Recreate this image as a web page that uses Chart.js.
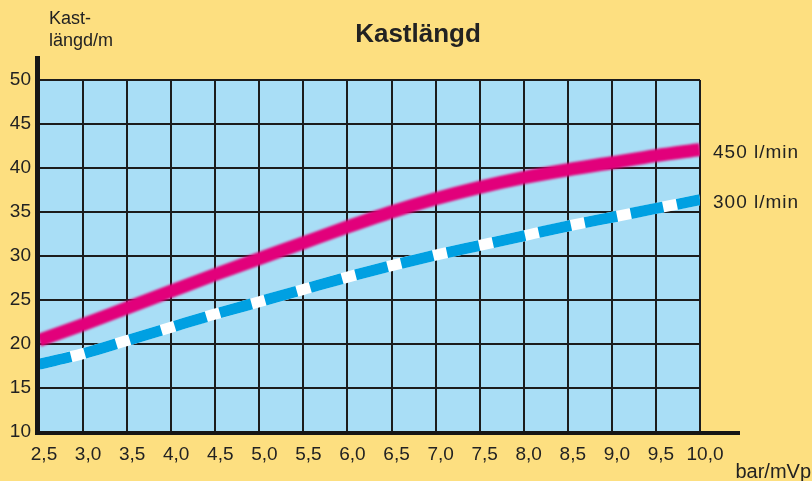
<!DOCTYPE html>
<html>
<head>
<meta charset="utf-8">
<script src="https://cdn.jsdelivr.net/npm/chart.js@4"></script>
<style>
  html, body { margin: 0; padding: 0; background: #fddf80; }
  #wrap { width: 812px; height: 481px; }
</style>
</head>
<body>
<div id="wrap"><canvas id="chart" width="812" height="481"></canvas></div>
<script>
// tryck (bar/mVp) och kastlängd (m)
const pressure = [2.5, 3.0, 3.5, 4.0, 4.5, 5.0, 5.5, 6.0, 6.5, 7.0, 7.5, 8.0, 8.5, 9.0, 9.5, 10.0];
const flow450 = [20.4, 22.2, 24.1, 26.0, 27.9, 29.7, 31.5, 33.3, 35.0, 36.5, 37.8, 38.9, 39.8, 40.6, 41.4, 42.1];
const flow300 = [17.7, 18.9, 20.4, 21.9, 23.4, 24.8, 26.2, 27.6, 28.9, 30.1, 31.2, 32.3, 33.4, 34.4, 35.4, 36.4];
const seriesLabels = ['450 l/min', '300 l/min'];
const chartTitle = 'Kastlängd';
const yTitle = ['Kast-', 'längd/m'];
const xTitle = 'bar/mVp';

const FONT = "'Liberation Sans', Arial, sans-serif";
Chart.defaults.font.family = FONT;
Chart.defaults.color = '#222';

const toPoints = (ys) => pressure.map((x, i) => ({ x, y: ys[i] }));
const fmt = (v) => v.toFixed(1).replace('.', ',');

const decorations = {
    id: 'decorations',
    beforeDraw(chart) {
        const { ctx, chartArea: a } = chart;
        ctx.save();
        ctx.fillStyle = '#a9def6';
        ctx.fillRect(a.left, a.top, a.right - a.left, a.bottom - a.top);
        ctx.restore();
    },
    beforeDatasetDraw(chart, args) {
        if (args.index === 0) {
            chart.ctx.save();
            chart.ctx.filter = 'blur(1px)';
        }
    },
    afterDatasetDraw(chart, args) {
        if (args.index === 0) chart.ctx.restore();
    },
    afterDraw(chart) {
        const { ctx, chartArea: a } = chart;
        ctx.save();
        // axis lines
        ctx.fillStyle = '#161616';
        ctx.fillRect(a.left - 4, 56, 5, a.bottom - 56 + 2);
        ctx.fillRect(a.left - 4, a.bottom - 1, 740 - a.left + 4, 4);

        ctx.textBaseline = 'alphabetic';
        ctx.fillStyle = '#222';
        ctx.textAlign = 'center';
        ctx.font = 'bold 26px ' + FONT;
        ctx.fillText(chartTitle, 418, 42);

        ctx.textAlign = 'left';
        ctx.font = '18px ' + FONT;
        ctx.fillText(yTitle[0], 49, 24);
        ctx.fillText(yTitle[1], 49, 46);

        ctx.textAlign = 'right';
        ctx.font = '20px ' + FONT;
        ctx.fillText(xTitle, 811, 478);

        // series labels beside the line ends
        ctx.textAlign = 'left';
        ctx.textBaseline = 'middle';
        ctx.font = '19px ' + FONT;
        ctx.letterSpacing = '1px';
        [0, 2].forEach((di, k) => {
            const pts = chart.getDatasetMeta(di).data;
            const last = pts[pts.length - 1];
            ctx.fillText(seriesLabels[k], 713, last.y + 3);
        });
        ctx.restore();
    },
};

new Chart(document.getElementById('chart'), {
    type: 'line',
    data: {
        datasets: [
            {
                label: seriesLabels[0],
                data: toPoints(flow450),
                borderColor: '#e2007b',
                borderWidth: 13,
                pointRadius: 0,
                cubicInterpolationMode: 'monotone',
                order: 0,
            },
            {
                label: seriesLabels[1],
                data: toPoints(flow300),
                borderColor: '#00a0e2',
                borderWidth: 11,
                borderDash: [33, 14],
                borderCapStyle: 'butt',
                pointRadius: 0,
                cubicInterpolationMode: 'monotone',
                order: 1,
            },
            {
                label: seriesLabels[1] + ' base',
                data: toPoints(flow300),
                borderColor: '#ffffff',
                borderWidth: 11,
                pointRadius: 0,
                cubicInterpolationMode: 'monotone',
                order: 2,
            },
        ],
    },
    options: {
        responsive: false,
        animation: false,
        layout: {
            padding: { top: 80, right: 112, left: 0, bottom: 0 },
        },
        plugins: {
            legend: { display: false },
            tooltip: { enabled: false },
            title: { display: false },
        },
        scales: {
            x: {
                type: 'linear',
                min: 2.5,
                max: 10,
                afterFit(scale) { scale.height = 49; },
                grid: { color: '#1c1c1c', lineWidth: 2, drawTicks: false },
                border: { display: false },
                ticks: {
                    stepSize: 0.5,
                    padding: 11,
                    labelOffset: 5,
                    maxRotation: 0,
                    autoSkip: false,
                    font: { size: 19 },
                    callback: (v) => fmt(v),
                },
            },
            y: {
                min: 10,
                max: 50,
                afterFit(scale) { scale.width = 39; },
                grid: { color: '#1c1c1c', lineWidth: 2, drawTicks: false },
                border: { display: false },
                ticks: {
                    stepSize: 5,
                    padding: 8,
                    font: { size: 19 },
                },
            },
        },
    },
    plugins: [decorations],
});
</script>
</body>
</html>
